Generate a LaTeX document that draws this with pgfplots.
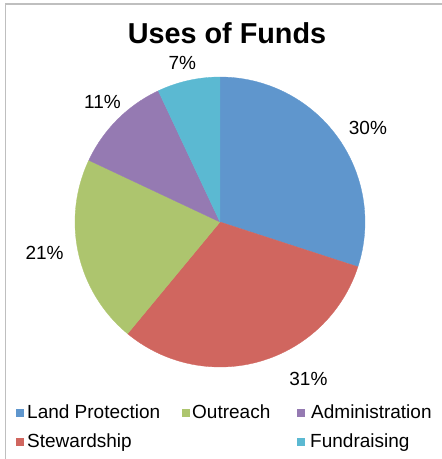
\documentclass[border=0pt]{standalone}
\usepackage{pgfplots}
\usepackage{pgfplotstable}
\pgfplotsset{compat=1.18}
\usepackage{fontspec}
\setmainfont{Liberation Sans}

\definecolor{cLand}{HTML}{5F96CD}
\definecolor{cStew}{HTML}{D0665F}
\definecolor{cOut}{HTML}{ADC56E}
\definecolor{cAdm}{HTML}{957AB2}
\definecolor{cFund}{HTML}{5BB9D2}
\definecolor{cBorder}{HTML}{BFBFBF}

\newcommand{\lblfont}{\fontsize{19}{23}\selectfont}

\pgfplotstableread{
value
30
31
21
11
7
}\funds

\pgfplotstablegetelem{0}{value}\of\funds \let\vA\pgfplotsretval
\pgfplotstablegetelem{1}{value}\of\funds \let\vB\pgfplotsretval
\pgfplotstablegetelem{2}{value}\of\funds \let\vC\pgfplotsretval
\pgfplotstablegetelem{3}{value}\of\funds \let\vD\pgfplotsretval
\pgfplotstablegetelem{4}{value}\of\funds \let\vE\pgfplotsretval
\pgfmathsetmacro\aA{90}
\pgfmathsetmacro\aB{\aA-3.6*\vA}
\pgfmathsetmacro\aC{\aB-3.6*\vB}
\pgfmathsetmacro\aD{\aC-3.6*\vC}
\pgfmathsetmacro\aE{\aD-3.6*\vD}
\pgfmathsetmacro\aF{\aE-3.6*\vE}

\begin{document}
\begin{tikzpicture}[x=1pt,y=1pt]
\path[use as bounding box] (0,0) rectangle (442,459);
\draw[cBorder, line width=1.5pt] (5.5,0) -- (5.5,455) -- (442,455);
\node[anchor=base, font=\bfseries\fontsize{28.8}{34}\selectfont] at (227,415) {Uses of Funds};
\begin{axis}[
  at={(75pt,92pt)}, anchor=south west,
  scale only axis, width=290pt, height=290pt,
  xmin=-1, xmax=1, ymin=-1, ymax=1,
  hide axis, clip=false,
]
\addplot[fill=cLand, draw=cLand, line width=0.3pt, domain=\aB:\aA, samples=80, variable=\t] ({cos(t)},{sin(t)}) -- (axis cs:0,0) -- cycle;
\addplot[fill=cStew, draw=cStew, line width=0.3pt, domain=\aC:\aB, samples=80, variable=\t] ({cos(t)},{sin(t)}) -- (axis cs:0,0) -- cycle;
\addplot[fill=cOut, draw=cOut, line width=0.3pt, domain=\aD:\aC, samples=60, variable=\t] ({cos(t)},{sin(t)}) -- (axis cs:0,0) -- cycle;
\addplot[fill=cAdm, draw=cAdm, line width=0.3pt, domain=\aE:\aD, samples=40, variable=\t] ({cos(t)},{sin(t)}) -- (axis cs:0,0) -- cycle;
\addplot[fill=cFund, draw=cFund, line width=0.3pt, domain=\aF:\aE, samples=30, variable=\t] ({cos(t)},{sin(t)}) -- (axis cs:0,0) -- cycle;
\node[font=\lblfont] at (axis cs:1.02,0.65) {30\%};
\node[font=\lblfont] at (axis cs:0.61,-1.08) {31\%};
\node[font=\lblfont] at (axis cs:-1.21,-0.21) {21\%};
\node[font=\lblfont] at (axis cs:-0.81,0.83) {11\%};
\node[font=\lblfont] at (axis cs:-0.26,1.10) {7\%};
\end{axis}
\begin{scope}[every node/.style={anchor=base west, inner sep=0pt, font=\lblfont}]
\fill[cLand] (16,42) rectangle (24,50);
\node at (27,41) {Land Protection};
\fill[cOut] (182,42) rectangle (190,50);
\node at (192,41) {Outreach};
\fill[cAdm] (297,42) rectangle (305,50);
\node at (311,41) {Administration};
\fill[cStew] (16,13) rectangle (24,21);
\node at (27,12) {Stewardship};
\fill[cFund] (297,13) rectangle (305,21);
\node at (310,12) {Fundraising};
\end{scope}
\end{tikzpicture}
\end{document}
